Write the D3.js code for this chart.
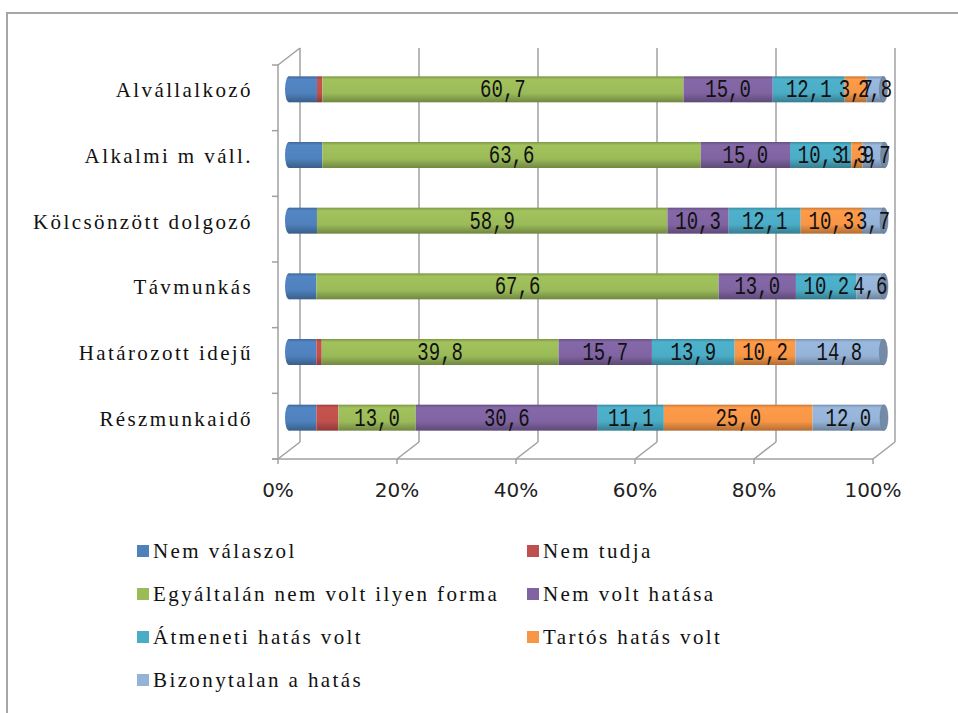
<!DOCTYPE html>
<html lang="hu">
    <head>
        <meta charset="utf-8">
        <title>Stacked cylinders</title>
        <script src="https://d3js.org/d3.v7.min.js"></script>
        <style type="text/css">
            body { margin: 0; background: #fff; }
            .cat { font-family: "Liberation Serif", serif; font-size: 21px; letter-spacing: 2.4px; fill: #111; }
            .tick { font-family: "DejaVu Sans", sans-serif; font-size: 20px; fill: #222; }
            .lab { font-family: "Liberation Mono", monospace; font-size: 19px; fill: #111; }
            .leg { font-family: "Liberation Serif", serif; font-size: 21px; letter-spacing: 2.4px; fill: #111; }
        </style>
    </head>
    <body>
        <svg width="958" height="713"></svg>
        <script type="text/javascript">

            // data (percent)
            const categories = ["Alvállalkozó", "Alkalmi m váll.", "Kölcsönzött dolgozó", "Távmunkás", "Határozott idejű", "Részmunkaidő"];
            const seriesNames = ["Nem válaszol", "Nem tudja", "Egyáltalán nem volt ilyen forma", "Nem volt hatása",
                                 "Átmeneti hatás volt", "Tartós hatás volt", "Bizonytalan a hatás"];
            const nemValaszol   = [4.7, 5.6, 4.7, 4.6, 4.6, 4.6];
            const nemTudja      = [0.9, 0.0, 0.0, 0.0, 0.9, 3.7];
            const egyaltalan    = [60.7, 63.6, 58.9, 67.6, 39.8, 13.0];
            const nemVoltHatasa = [15.0, 15.0, 10.3, 13.0, 15.7, 30.6];
            const atmeneti      = [12.1, 10.3, 12.1, 10.2, 13.9, 11.1];
            const tartos        = [3.7, 1.9, 10.3, 0.0, 10.2, 25.0];
            const bizonytalan   = [2.8, 3.7, 3.7, 4.6, 14.8, 12.0];
            const tickValues = [0, 20, 40, 60, 80, 100];
            const colors = ["#4F81BD", "#C0504D", "#9BBB59", "#8064A2", "#4BACC6", "#F79646", "#95B3D7"];

            const allSeries = [nemValaszol, nemTudja, egyaltalan, nemVoltHatasa, atmeneti, tartos, bizonytalan];
            const dataset = categories.map((c, i) => {
                const row = {cat: c};
                seriesNames.forEach((s, j) => row[s] = allSeries[j][i]);
                return row;
            });

            const svg = d3.select("svg");

            // frame
            svg.append("path").attr("d", "M7,713 V13 H958")
               .attr("fill", "none").attr("stroke", "#a6a6a6").attr("stroke-width", 2);

            // 3d offsets: front floor / back wall
            const dx = 22, dy = -17;
            const xFront = d3.scaleLinear().domain([0, 100]).range([278, 873]);
            const xBar = d3.scaleLinear().domain([0, 100]).range([278 + dx / 2, 873 + dx / 2]);
            const yFront = d3.scaleBand().domain(categories).range([65, 459]);
            const floorY = 459, topY = 65;
            const barH = 26;
            const barY = c => yFront(c) + yFront.bandwidth() / 2 + dy / 2;

            const grid = svg.append("g").attr("stroke", "#a0a0a0").attr("stroke-width", 1.5).attr("fill", "none");
            // back wall gridlines
            grid.selectAll(".gl").data(tickValues).enter().append("line")
                .attr("x1", d => xFront(d) + dx).attr("x2", d => xFront(d) + dx)
                .attr("y1", topY + dy).attr("y2", floorY + dy);
            // floor diagonals
            grid.selectAll(".fd").data(tickValues).enter().append("line")
                .attr("x1", d => xFront(d)).attr("x2", d => xFront(d) + dx)
                .attr("y1", floorY).attr("y2", floorY + dy);
            // front floor axis + ticks
            grid.append("line").attr("x1", xFront(0) - 6).attr("x2", xFront(100))
                .attr("y1", floorY).attr("y2", floorY);
            grid.selectAll(".ft").data(tickValues).enter().append("line")
                .attr("x1", d => xFront(d)).attr("x2", d => xFront(d))
                .attr("y1", floorY).attr("y2", floorY + 5);
            // left wall
            grid.append("line").attr("x1", xFront(0)).attr("x2", xFront(0)).attr("y1", topY).attr("y2", floorY);
            grid.append("line").attr("x1", xFront(0)).attr("x2", xFront(0) + dx).attr("y1", topY).attr("y2", topY + dy);
            const bounds = categories.map(c => yFront(c)).concat([floorY]);
            grid.selectAll(".lt").data(bounds).enter().append("line")
                .attr("x1", xFront(0) - 6).attr("x2", xFront(0))
                .attr("y1", d => d).attr("y2", d => d);

            // tick labels
            svg.selectAll(".tick").data(tickValues).enter().append("text")
               .attr("class", "tick")
               .attr("x", d => xFront(d)).attr("y", 497)
               .attr("text-anchor", "middle")
               .text(d => d + "%");

            // category labels
            svg.selectAll(".cat").data(categories).enter().append("text")
               .attr("class", "cat")
               .attr("x", 253).attr("y", c => barY(c) + 8)
               .attr("text-anchor", "end")
               .text(c => c);

            // cylinder shading
            const defs = svg.append("defs");
            colors.forEach((col, i) => {
                const g = defs.append("linearGradient").attr("id", "g" + i)
                              .attr("x1", 0).attr("x2", 0).attr("y1", 0).attr("y2", 1);
                const c = d3.color(col);
                g.append("stop").attr("offset", "0%").attr("stop-color", c.darker(0.6));
                g.append("stop").attr("offset", "12%").attr("stop-color", c.brighter(0.1));
                g.append("stop").attr("offset", "65%").attr("stop-color", c);
                g.append("stop").attr("offset", "100%").attr("stop-color", c.darker(0.9));
            });

            const stack = d3.stack().keys(seriesNames);
            const series = stack(dataset);

            // left rounded end
            svg.selectAll(".lcap").data(categories).enter().append("ellipse")
               .attr("cx", xBar(0)).attr("cy", c => barY(c))
               .attr("rx", 4).attr("ry", barH / 2)
               .attr("fill", "url(#g0)");

            const groups = svg.selectAll(".ser").data(series).enter().append("g")
                              .style("fill", (d, i) => "url(#g" + i + ")");
            groups.selectAll("rect").data(d => d).enter().append("rect")
                  .attr("x", d => xBar(d[0]))
                  .attr("y", d => barY(d.data.cat) - barH / 2)
                  .attr("width", d => xBar(d[1]) - xBar(d[0]))
                  .attr("height", barH);

            // right end caps
            const last = series[series.length - 1];
            svg.selectAll(".rcap").data(last).enter().append("ellipse")
               .attr("cx", d => xBar(d[1])).attr("cy", d => barY(d.data.cat))
               .attr("rx", 4).attr("ry", barH / 2)
               .attr("fill", d3.color(colors[6]).darker(0.7))
               .attr("stroke", d3.color(colors[6]).darker(1.2)).attr("stroke-width", 0.5);

            // value labels (not for the first two series)
            const labelled = series.slice(2);
            labelled.forEach(s => {
                svg.selectAll(".lab-" + s.index).data(s.filter(d => d[1] - d[0] > 0)).enter().append("text")
                   .attr("class", "lab")
                   .attr("text-anchor", "middle")
                   .attr("transform", d => `translate(${xBar((d[0] + d[1]) / 2)},${barY(d.data.cat) + 8}) scale(1,1.4)`)
                   .text(d => d3.format(".1f")(d[1] - d[0]).replace(".", ","));
            });

            // legend
            const legX = [137, 527], legY0 = 551, legStep = 43;
            const leg = svg.selectAll(".legi").data(seriesNames).enter().append("g")
                           .attr("transform", (d, i) => `translate(${legX[i % 2]},${legY0 + Math.floor(i / 2) * legStep})`);
            leg.append("rect").attr("x", 0).attr("y", -6).attr("width", 12).attr("height", 12)
               .attr("fill", (d, i) => colors[i]);
            leg.append("text").attr("class", "leg").attr("x", 16).attr("y", 7).text(d => d);

        </script>
    </body>
</html>
